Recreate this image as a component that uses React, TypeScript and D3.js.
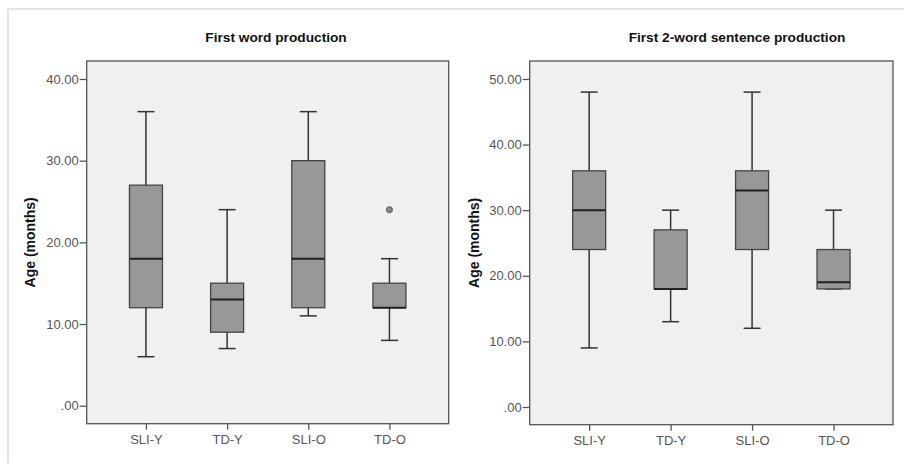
import React, { useEffect, useRef } from "react";
import * as d3 from "d3";

const groups = ["SLI-Y", "TD-Y", "SLI-O", "TD-O"];

// first word production (months)
const wordMin = [6, 7, 11, 8];
const wordQ1 = [12, 9, 12, 12];
const wordMedian = [18, 13, 18, 12];
const wordQ3 = [27, 15, 30, 15];
const wordMax = [36, 24, 36, 18];
const wordOutliers = [[], [], [], [24]];
const wordTicks = [0, 10, 20, 30, 40];

// first 2-word sentence production (months)
const sentMin = [9, 13, 12, 18];
const sentQ1 = [24, 18, 24, 18];
const sentMedian = [30, 18, 33, 19];
const sentQ3 = [36, 27, 36, 24];
const sentMax = [48, 30, 48, 30];
const sentOutliers = [[], [], [], []];
const sentTicks = [0, 10, 20, 30, 40, 50];

const fmt = (v: number) => (v === 0 ? ".00" : v.toFixed(2));
const FONT = "Liberation Sans, Arial, sans-serif";

function drawPanel(svg: any, opts: any) {
  const { left, right, top, bottom, domain, ticks, title, titleX, labelX } = opts;
  const g = svg.append("g");

  const x = d3.scalePoint().domain(groups).range([left, right]).padding(0.73);
  const y = d3.scaleLinear().domain(domain).range([bottom, top]);

  g.append("rect")
    .attr("x", left).attr("y", top)
    .attr("width", right - left).attr("height", bottom - top)
    .attr("fill", "#f0f0f0")
    .attr("stroke", "#555").attr("stroke-width", 1.3);

  const yAxis = d3.axisLeft(y).tickValues(ticks).tickFormat(fmt as any).tickSize(7).tickPadding(1);
  const ya = g.append("g").attr("transform", `translate(${left},0)`).call(yAxis);
  ya.select(".domain").remove();
  ya.selectAll("line").attr("stroke", "#555").attr("stroke-width", 1.3);
  ya.selectAll("text").attr("fill", "#555").attr("font-size", 13).attr("font-family", FONT);

  const xAxis = d3.axisBottom(x).tickSize(6).tickPadding(5);
  const xa = g.append("g").attr("transform", `translate(0,${bottom})`).call(xAxis);
  xa.select(".domain").remove();
  xa.selectAll("line").attr("stroke", "#555").attr("stroke-width", 1.3);
  xa.selectAll("text").attr("fill", "#555").attr("font-size", 13).attr("font-family", FONT);

  const boxW = 33;
  const capW = 17;
  groups.forEach((k, i) => {
    const cx = x(k) as number;
    const d = opts.data;
    // whiskers
    g.append("line").attr("x1", cx).attr("x2", cx).attr("y1", y(d.max[i])).attr("y2", y(d.q3[i]))
      .attr("stroke", "#333").attr("stroke-width", 1.5);
    g.append("line").attr("x1", cx).attr("x2", cx).attr("y1", y(d.q1[i])).attr("y2", y(d.min[i]))
      .attr("stroke", "#333").attr("stroke-width", 1.5);
    g.append("line").attr("x1", cx - capW / 2).attr("x2", cx + capW / 2).attr("y1", y(d.max[i])).attr("y2", y(d.max[i]))
      .attr("stroke", "#333").attr("stroke-width", 1.5);
    g.append("line").attr("x1", cx - capW / 2).attr("x2", cx + capW / 2).attr("y1", y(d.min[i])).attr("y2", y(d.min[i]))
      .attr("stroke", "#333").attr("stroke-width", 1.5);
    // box
    g.append("rect")
      .attr("x", cx - boxW / 2).attr("y", y(d.q3[i]))
      .attr("width", boxW).attr("height", y(d.q1[i]) - y(d.q3[i]))
      .attr("fill", "#989898").attr("stroke", "#444").attr("stroke-width", 1.3);
    g.append("line").attr("x1", cx - boxW / 2).attr("x2", cx + boxW / 2)
      .attr("y1", y(d.median[i])).attr("y2", y(d.median[i]))
      .attr("stroke", "#222").attr("stroke-width", 2);
    d.outliers[i].forEach((o: number) => {
      g.append("circle").attr("cx", cx).attr("cy", y(o)).attr("r", 3)
        .attr("fill", "#8a8a8a").attr("stroke", "#555").attr("stroke-width", 1);
    });
  });

  g.append("text").attr("x", titleX).attr("y", 41.5).attr("text-anchor", "middle")
    .attr("font-size", 13.7).attr("font-weight", "bold").attr("fill", "#111")
    .attr("font-family", FONT).text(title);

  g.append("text")
    .attr("transform", `translate(${labelX},${(top + bottom) / 2}) rotate(-90)`)
    .attr("text-anchor", "middle").attr("dy", "0.35em")
    .attr("font-size", 14).attr("font-weight", "bold").attr("fill", "#111")
    .attr("font-family", FONT).text("Age (months)");
}

export default function App() {
  const ref = useRef<SVGSVGElement>(null);

  useEffect(() => {
    const svg = d3.select(ref.current);
    svg.selectAll("*").remove();

    svg.append("rect").attr("width", 904).attr("height", 463).attr("fill", "#fff");
    svg.append("path").attr("d", "M8,463V9H904").attr("fill", "none")
      .attr("stroke", "#dcdcdc").attr("stroke-width", 1.5);

    drawPanel(svg, {
      left: 86.7, right: 448.7, top: 61, bottom: 423.7,
      domain: [-2.2, 42.2], ticks: wordTicks,
      title: "First word production", titleX: 276, labelX: 30,
      data: { min: wordMin, q1: wordQ1, median: wordMedian, q3: wordQ3, max: wordMax, outliers: wordOutliers },
    });
    drawPanel(svg, {
      left: 529.7, right: 893, top: 61, bottom: 424.7,
      domain: [-2.7, 52.74], ticks: sentTicks,
      title: "First 2-word sentence production", titleX: 737, labelX: 474,
      data: { min: sentMin, q1: sentQ1, median: sentMedian, q3: sentQ3, max: sentMax, outliers: sentOutliers },
    });
  }, []);

  return (
    <svg ref={ref} width={904} height={463} style={{ position: "absolute", left: 0, top: 0 }} />
  );
}
